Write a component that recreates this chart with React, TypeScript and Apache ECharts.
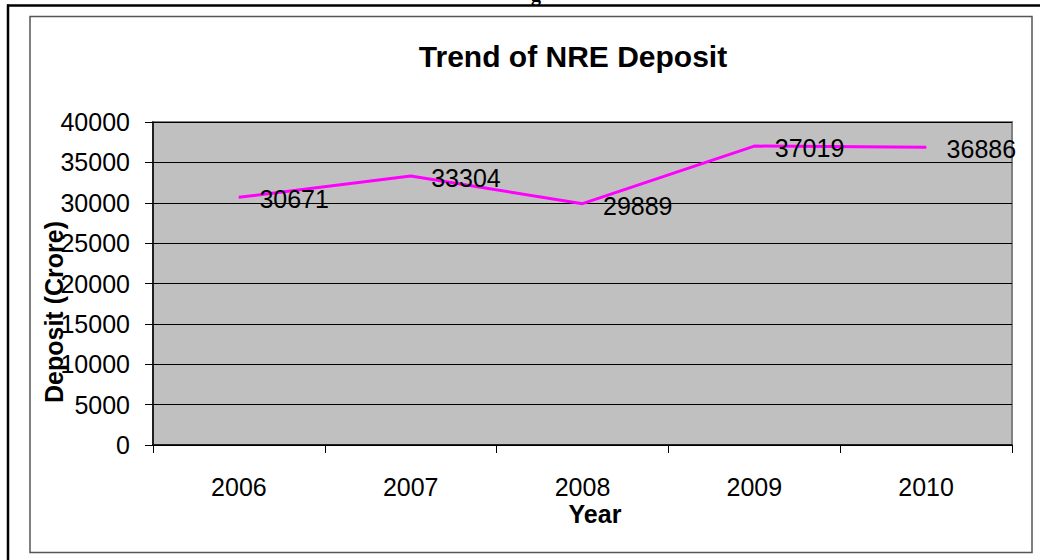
import React, { useEffect, useRef } from "react";
import * as echarts from "echarts";

const years = ["2006", "2007", "2008", "2009", "2010"];
const deposits = [30671, 33304, 29889, 37019, 36886];
const titleText = "Trend of NRE Deposit";
const yName = "Deposit (Crore)";
const xName = "Year";

const FONT = "'Liberation Sans', Arial, sans-serif";

export default function App() {
  const ref = useRef<HTMLDivElement>(null);
  useEffect(() => {
    if (!ref.current) return;
    const chart = echarts.init(ref.current, undefined, { renderer: "svg" });
    chart.setOption({
      animation: false,
      backgroundColor: "#ffffff",
      grid: {
        left: 153,
        top: 122,
        right: 28,
        bottom: 115,
        show: true,
        backgroundColor: "#C0C0C0",
        borderColor: "#808080",
        borderWidth: 2,
        containLabel: false,
      },
      xAxis: {
        type: "category",
        data: years,
        boundaryGap: true,
        axisLine: { show: true, lineStyle: { color: "#000", width: 1.5 } },
        axisTick: { show: true, length: 8, alignWithLabel: false, interval: 0, lineStyle: { color: "#000" } },
        axisLabel: { interval: 0, fontSize: 25, color: "#000", fontFamily: FONT, margin: 29 },
        splitLine: { show: false },
      },
      yAxis: {
        type: "value",
        min: 0,
        max: 40000,
        interval: 5000,
        axisLine: { show: true, lineStyle: { color: "#000", width: 1.5 } },
        axisTick: { show: true, length: 8, lineStyle: { color: "#000" } },
        axisLabel: {
          fontSize: 25,
          color: "#000",
          fontFamily: FONT,
          margin: 23,
          formatter: (v: number) => String(v),
        },
        splitLine: { show: true, lineStyle: { color: "#000", width: 1 } },
      },
      series: [
        {
          type: "line",
          data: deposits,
          symbol: "circle",
          symbolSize: 1,
          showSymbol: true,
          lineStyle: { color: "#FF00FF", width: 3 },
          itemStyle: { color: "#FF00FF" },
          label: {
            show: true,
            position: "right",
            distance: 20,
            offset: [0, 2],
            fontSize: 25,
            color: "#000",
            fontFamily: FONT,
          },
        },
      ],
      graphic: [
        {
          type: "line",
          shape: { x1: 7, y1: 5.5, x2: 1040, y2: 5.5 },
          style: { stroke: "#000", lineWidth: 2.5 },
        },
        {
          type: "line",
          shape: { x1: 8, y1: 4.5, x2: 8, y2: 560 },
          style: { stroke: "#000", lineWidth: 2.5 },
        },
        {
          type: "rect",
          shape: { x: 30, y: 16.5, width: 1002, height: 536 },
          style: { fill: "none", stroke: "#555", lineWidth: 1.5 },
        },
        {
          type: "text",
          x: 536,
          y: 4,
          style: {
            text: "g",
            font: "bold 20px 'Liberation Serif', serif",
            fill: "#000",
            textAlign: "center",
            textVerticalAlign: "bottom",
          },
        },
        {
          type: "text",
          x: 573,
          y: 56,
          style: {
            text: titleText,
            font: `bold 30px ${FONT}`,
            fill: "#000",
            textAlign: "center",
            textVerticalAlign: "middle",
          },
        },
        {
          type: "text",
          x: 595,
          y: 514,
          style: {
            text: xName,
            font: `bold 25px ${FONT}`,
            fill: "#000",
            textAlign: "center",
            textVerticalAlign: "middle",
          },
        },
        {
          type: "text",
          x: 54,
          y: 312,
          rotation: Math.PI / 2,
          style: {
            text: yName,
            font: `bold 25px ${FONT}`,
            fill: "#000",
            textAlign: "center",
            textVerticalAlign: "middle",
          },
        },
      ],
    });
    return () => chart.dispose();
  }, []);
  return (
    <div
      ref={ref}
      style={{ position: "absolute", left: 0, top: 0, width: 1040, height: 560 }}
    />
  );
}
